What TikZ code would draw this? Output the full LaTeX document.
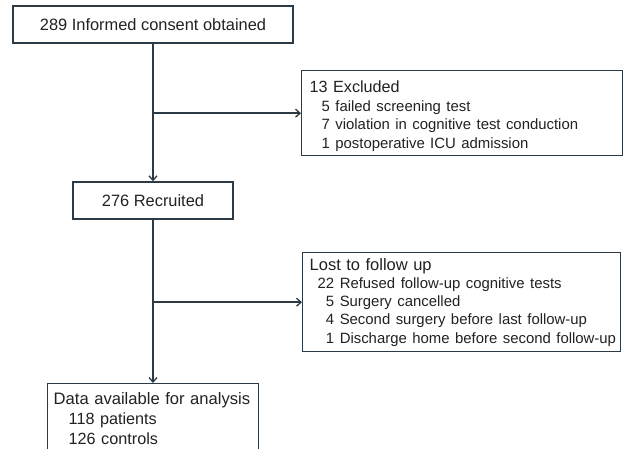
\documentclass[tikz,border=0pt]{standalone}
\usepackage{fontspec}
\setmainfont{Liberation Sans}
\usetikzlibrary{arrows.meta}
\definecolor{lineclr}{HTML}{2B3A44}
\definecolor{txtclr}{HTML}{222222}
\newcommand{\subf}{\fontsize{14.9}{18.2}\selectfont}
\tikzset{
  box/.style={draw=lineclr, line width=1.4pt, rectangle, text=txtclr,
    font=\fontsize{16.4}{18.6}\selectfont, inner sep=0pt},
  listbox/.style={box, align=left, anchor=north west},
  arr/.style={draw=lineclr, line width=1.4pt, -{Straight Barb[length=4.5pt,width=8pt,line width=1.3pt]}}
}
\begin{document}
\begin{tikzpicture}[x=1pt,y=-1pt]
\useasboundingbox (0,0) rectangle (625,449);
\clip (0,0) rectangle (625,449);
\fill[white] (0,0) rectangle (625,449);
\node[box, minimum width=280pt, minimum height=37pt] (consent) at (153,24.5) {289 Informed consent obtained};
\node[listbox, font=\fontsize{16.2}{18.6}\selectfont, minimum width=320pt, minimum height=85pt, text width=305pt, inner xsep=8pt] (excl) at (301,70)
  {\rule{0pt}{18pt}13 Excluded\\
   \mbox{\subf\hspace*{12pt}5 failed screening test}\\
   \mbox{\subf\hspace*{12pt}7 violation in cognitive test conduction}\\
   \mbox{\subf\hspace*{12pt}1 postoperative ICU admission}};
\node[box, minimum width=160pt, minimum height=37pt] (recr) at (153,200.5) {276 Recruited};
\node[listbox, font=\fontsize{16.5}{18.2}\selectfont, minimum width=318pt, minimum height=99pt, text width=308pt, inner xsep=5pt] (lost) at (302,252)
  {\mbox{\hspace*{2pt}Lost to follow up}\\
   \mbox{\subf\hspace*{10pt}22 Refused follow-up cognitive tests}\\
   \mbox{\subf\hspace*{10pt}\phantom{2}5 Surgery cancelled}\\
   \mbox{\subf\hspace*{10pt}\phantom{2}4 Second surgery before last follow-up}\\
   \mbox{\subf\hspace*{10pt}\phantom{2}1 Discharge home before second follow-up}};
\node[listbox, font=\fontsize{16.6}{20}\selectfont, minimum width=211pt, minimum height=70pt, text width=199pt, inner xsep=6pt] (data) at (47,383)
  {Data available for analysis\\
   \mbox{\fontsize{16.2}{20}\selectfont\hspace*{15pt}118 patients}\\
   \mbox{\fontsize{16.2}{20}\selectfont\hspace*{15pt}126 controls}};
\coordinate (j1) at (consent.south |- excl.west);
\coordinate (j2) at (recr.south |- lost.west);
\draw[arr] (consent.south) -- (recr.north);
\draw[arr] (j1) -- (excl.west);
\draw[arr] (recr.south) -- (data.north -| recr.south);
\draw[arr] (j2) -- (lost.west);
\end{tikzpicture}
\end{document}
